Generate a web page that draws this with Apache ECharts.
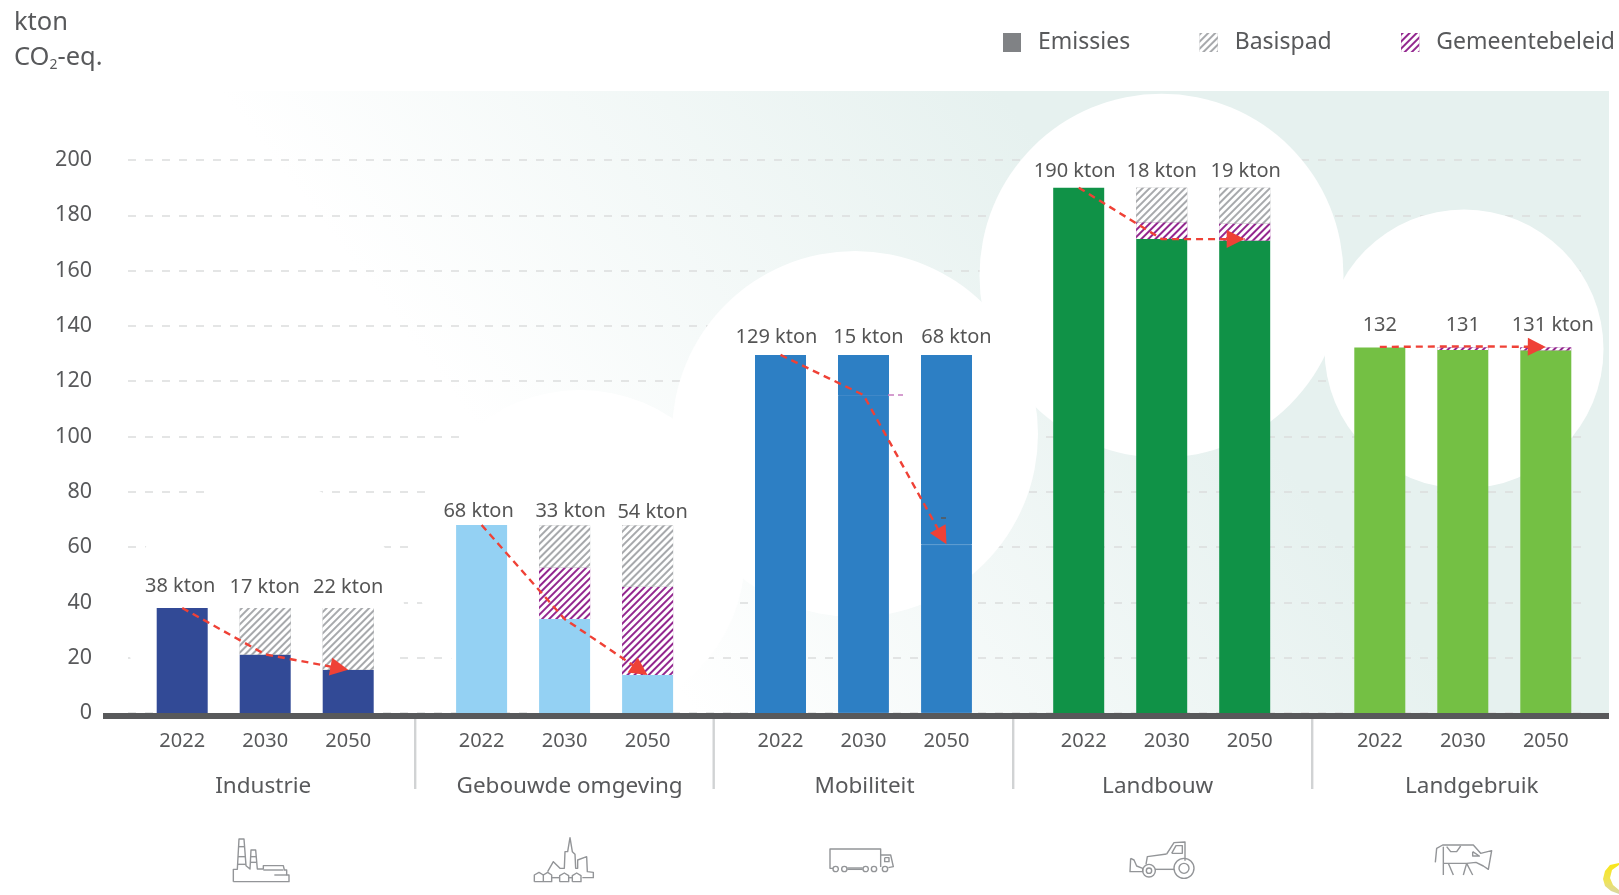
<!DOCTYPE html>
<html><head><meta charset="utf-8">
<style>html,body{margin:0;padding:0;background:#fff}#c{width:1619px;height:895px}</style>
<script src="https://cdn.jsdelivr.net/npm/echarts@6/dist/echarts.min.js"></script>
</head><body><div id="c"></div>
<script>
const sectors = ['Industrie','Gebouwde omgeving','Mobiliteit','Landbouw','Landgebruik'];
const years = ['2022','2030','2050'];
const yTicks = {min:0,max:200,interval:20};
const sectorColors = ['#324a96','#94d1f3','#2d7fc4','#109247','#74c044'];

const emissies = [
  [38,21.2,15.6],
  [68,34,13.7],
  [129.5,115,61],
  [190,171.4,170.9],
  [132.2,131.3,131.2]
];
const gemeentebeleid = [
  [0,0,0],
  [0,18.6,32],
  [0,0,0],
  [0,6.1,6.1],
  [0,0.9,1]
];
const basispad = [
  [0,16.8,22.4],
  [0,15.2,22.1],
  [0,14.5,68.5],
  [0,12.5,13],
  [0,0,0]
];
const trend = [
  [38,21.2,15.6],
  [68,34,13.7],
  [129.5,115,61],
  [190,171.4,171.4],
  [132.4,132.6,132.4]
];
const barLabels = [
  ['38 kton','17 kton','22 kton'],
  ['68 kton','33 kton','54 kton'],
  ['129 kton','15 kton','68 kton'],
  ['190 kton','18 kton','19 kton'],
  ['132','131','131 kton']
];

/* layout only */
const G = {left:140.7,pitch:299.4,width:249,top:160,bottom:182};
const groupNudge = [0,0,-0.5,-1.7,0];
const labelNudge = [
  [[-2,-7],[-0.5,-6],[0,-6]],
  [[-3,1],[6,1],[5,2]],
  [[-4,-3],[5,-3],[10,-3]],
  [[-4,-1],[0,-1],[1,-1]],
  [[0,-7],[0,-7],[7,-7]]
];
const nameNudge = [-2,5,1,-4,9];
const yearNudge = [0,0,0,5,0];
const ink = '#58595b', font = '"Noto Sans"';

const hatchGrey = {symbol:'rect',symbolSize:1,rotation:-Math.PI/4,dashArrayX:[1,0],dashArrayY:[1.7,2.9],color:'#a7a9ac',backgroundColor:'#ffffff'};
const hatchPurple = {symbol:'rect',symbolSize:1,rotation:-Math.PI/4,dashArrayX:[1,0],dashArrayY:[1.9,2.4],color:'#93278f',backgroundColor:'#ffffff'};

const grids=[
  {left:128,width:1457,top:G.top,bottom:G.bottom},
  {left:103,width:1506,top:G.top,bottom:G.bottom}
];
const xAxes=[
  {gridIndex:0,type:'category',data:[''],show:false},
  {gridIndex:1,type:'category',data:[''],z:4,position:'bottom',offset:3,axisTick:{show:false},axisLabel:{show:false},axisLine:{onZero:false,lineStyle:{color:ink,width:6,cap:'butt'}}}
];
const yAxes=[
  {gridIndex:0,type:'value',...yTicks,z:1,axisLine:{show:false},axisTick:{show:false},
   axisLabel:{margin:36,fontFamily:font,fontSize:21.5,color:ink,padding:[0,0,5,0]},
   splitLine:{lineStyle:{color:'#dcdddd',width:1.6,type:[8,9]}}},
  {gridIndex:1,type:'value',...yTicks,show:false}
];
const series=[];
const pad=d=>d>=0?[0,0,0,2*d]:[0,-2*d,0,0];
const red='#ef4136';

sectors.forEach((name,i)=>{
  const ax=i+2;
  grids.push({left:G.left+i*G.pitch+groupNudge[i],width:G.width,top:G.top,bottom:G.bottom});
  xAxes.push({gridIndex:ax,type:'category',data:years,z:4,name,nameLocation:'middle',nameGap:62,
    nameTextStyle:{fontFamily:font,fontSize:22.5,color:ink,padding:pad(nameNudge[i])},
    axisLine:{show:false},axisTick:{show:false},
    axisLabel:{margin:18,fontFamily:font,fontSize:20,color:ink,padding:pad(yearNudge[i])}});
  yAxes.push({gridIndex:ax,type:'value',...yTicks,show:false});
  const stack='s'+i, col=sectorColors[i];
  const common={type:'bar',stack,xAxisIndex:ax,yAxisIndex:ax,barWidth:51,z:5};
  series.push({...common,name:'Emissies',itemStyle:{color:col},
    data:emissies[i].map((v,k)=>(i===2&&k>0)?{value:v,itemStyle:{borderColor:'#3f88c8',borderWidth:1}}:v)});
  series.push({...common,name:'Gemeentebeleid',itemStyle:{color:'#93278f',decal:hatchPurple},data:gemeentebeleid[i]});
  series.push({...common,name:'Basispad',itemStyle:i===2?{color:col}:{color:'#a7a9ac',decal:hatchGrey},
    data:basispad[i].map((v,k)=>({
      value:v,
      label:{show:true,position:'top',distance:5,formatter:barLabels[i][k],offset:labelNudge[i][k],
        fontFamily:font,fontSize:20,color:'#555'}
    }))});
  const t=trend[i];
  const ml={silent:true,z:8,symbol:'triangle',symbolSize:18,animation:false,precision:3,
    label:{show:false},emphasis:{disabled:true},itemStyle:{color:red},
    lineStyle:{color:red,width:0,type:'solid'},
    data:[[{coord:[1,t[1]],symbol:'none'},{coord:[2,t[2]],symbol:'triangle',symbolOffset:[0,9]}]]};
  series.push({type:'line',name:'Trend',xAxisIndex:ax,yAxisIndex:ax,z:7,data:t,showSymbol:false,silent:true,
    itemStyle:{color:red},lineStyle:{color:red,width:2.4,type:[7,5]},markLine:ml});
});

const icons=[
 {x:220,y:825,d:'M40 170L40 133L52 133L57 42L72 42L78 122L90 132L93 75L107 75L112 132L130 132L130 122L190 122L193 135L200 135L200 150L207 150L207 170L40 170M163 150L200 150M130 135L190 135M56 65L74 65M54 95L76 95M52 118L78 118M92 95L108 95M92 112L110 112',c:[]},
 {x:525,y:825,d:'M68 140L85 110L105 130L118 130L120 80L128 80L135 38L142 80L150 88L152 130L158 130L158 105L185 95L187 140L205 142L205 158L172 158M28 170L28 150L42 142L55 150L68 142L80 150L80 170L28 170M55 150L55 170M104 170L104 152L118 144L131 152L131 170L104 170M142 170L142 152L155 144L168 152L168 170L142 170M80 158L104 158M131 158L142 158',c:[]},
 {x:820,y:835,d:'M39 100L30 100L30 42L182 42L182 96M182 60L212 60L220 95L205 98M194 68L207 68L207 80L194 80L194 68M82 99L128 99M82 103L128 103',c:[[47,102,8],[73,102,8],[137,102,8],[162,102,8],[195,102,8]]},
 {x:1120,y:830,d:'M140 72L162 38L195 36L195 92M155 70L168 47L187 47L187 70L155 70M140 72L82 80L78 103M32 85L42 90L50 108L68 115L68 125L30 125L32 85M105 118L162 118',c:[[87,122,19],[87,122,8],[192,115,30],[192,115,15]]},
 {x:1420,y:830,d:'M46 97L50 55L68 45L160 45L182 70L215 62L205 118L190 108L168 97L140 100L72 100M70 50L70 135M80 50L92 65L110 65L122 48M158 65L178 78L158 78L158 65M85 100L100 135M140 100L130 135M140 100L158 135',c:[]}
];
const iconStroke={fill:null,stroke:'#939598',lineWidth:1.4,lineJoin:'round'};
const iconEls=[];
icons.forEach(ic=>{
  ic.d.split('M').filter(Boolean).forEach(seg=>{
    const points=seg.split('L').map(p=>{const [a,b]=p.trim().split(' ').map(Number);return [ic.x+a/3,ic.y+b/3];});
    iconEls.push({type:'polyline',z:4,silent:true,shape:{points},style:iconStroke});
  });
  ic.c.forEach(c=>iconEls.push({type:'circle',z:4,silent:true,shape:{cx:ic.x+c[0]/3,cy:ic.y+c[1]/3,r:c[2]/3},style:iconStroke}));
});

const graphics=[
  {type:'rect',z:0,silent:true,shape:{x:103,y:91,width:1506,height:625},
   style:{fill:{type:'linear',x:220,y:90,x2:713,y2:-286,global:true,colorStops:[{offset:0,color:'#ffffff'},{offset:1,color:'#e6f1ef'}]}}},
  ...[[265,620,140],[580,555,165],[855,434,183],[1161.5,275.7,182],[1464,349,139.5]].map(c=>(
    {type:'circle',z:2,silent:true,shape:{cx:c[0],cy:c[1],r:c[2]},style:{fill:'#fff'}})),
  {type:'rect',z:3,silent:true,shape:{x:100,y:714,width:1519,height:181},style:{fill:'#fff'}},
  ...[415,713.5,1013,1312].map(x=>({type:'rect',z:3.5,silent:true,shape:{x:x-1,y:717,width:2.4,height:72},style:{fill:'#d1d3d4'}})),
  {type:'line',z:6,silent:true,shape:{x1:888,y1:395,x2:903,y2:395},style:{stroke:'#c77dc0',lineWidth:1.6,lineDash:[6,4]}},
  {type:'line',z:6,silent:true,shape:{x1:941,y1:518,x2:946,y2:518},style:{stroke:'#58595b',lineWidth:1.6}},
  ...iconEls,
  {type:'polygon',z:4,silent:true,shape:{points:[[1619,863],[1610,865],[1605,871],[1603,879],[1605,886],[1611,891],[1619,894],[1619,890],[1613,885],[1610,878],[1612,870],[1619,865]]},
   style:{fill:{type:'linear',x:0,y:0,x2:0,y2:1,colorStops:[{offset:0,color:'#f9e616'},{offset:0.6,color:'#efe35a'},{offset:1,color:'#d8d6a8'}]}}}
];

const chart=echarts.init(document.getElementById('c'),null,{renderer:'canvas'});
chart.setOption({
  animation:false,backgroundColor:'#fff',
  title:{left:9,top:0,itemGap:0,text:'{a|kton}\n{a|CO}{s|2}{a|-eq.}',
    textStyle:{fontWeight:'normal',rich:{a:{fontFamily:font,fontWeight:'normal',fontSize:25.5,color:ink,lineHeight:35},s:{fontFamily:font,fontWeight:'normal',fontSize:14,color:ink,lineHeight:35,padding:[15,0,0,0]}}}},
  legend:{left:998,top:26,width:800,itemWidth:18,itemHeight:19,itemGap:69.5,selectedMode:false,
    textStyle:{fontFamily:font,fontSize:23,color:ink,padding:[0,0,0,12]},
    data:[{name:'Emissies',icon:'rect',itemStyle:{color:'#808285'}},
          {name:'Basispad',icon:'rect',itemStyle:{color:'#a7a9ac',decal:hatchGrey}},
          {name:'Gemeentebeleid',icon:'rect',itemStyle:{color:'#93278f',decal:hatchPurple}}]},
  tooltip:{show:false},
  grid:grids,xAxis:xAxes,yAxis:yAxes,series,graphic:{elements:graphics}
});
</script></body></html>
